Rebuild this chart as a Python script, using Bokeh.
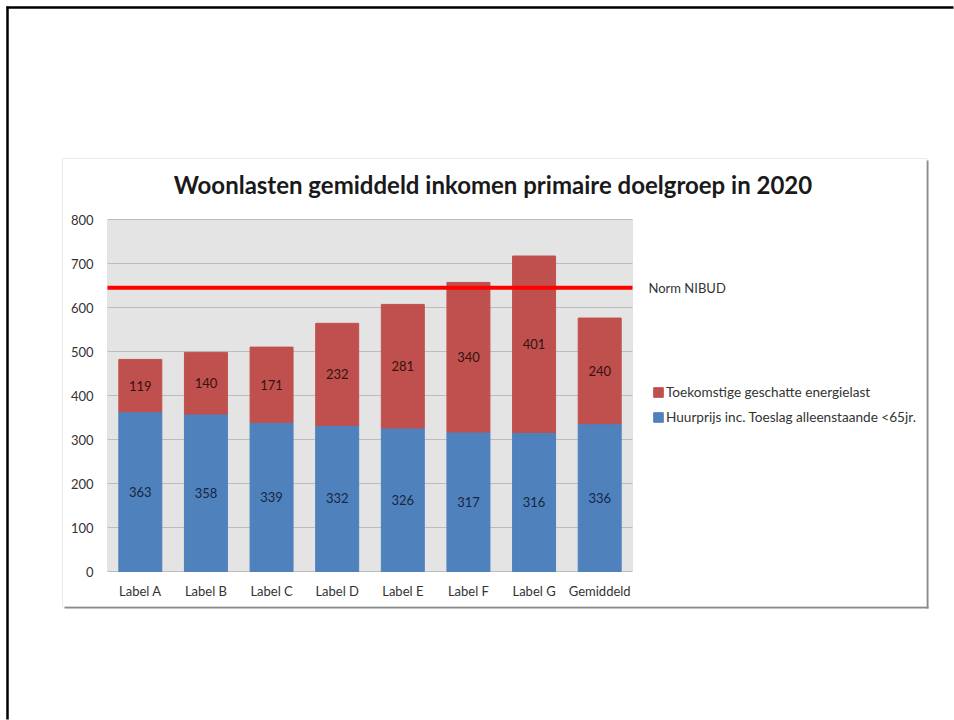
from bokeh.plotting import figure
from bokeh.models import (ColumnDataSource, FixedTicker, Label, BoxAnnotation,
                          Legend, LegendItem, Range1d)
from bokeh.embed import file_html
from bokeh.resources import INLINE
from bokeh.core.properties import value

# ---- data ----
categories = ["Label A", "Label B", "Label C", "Label D", "Label E", "Label F", "Label G", "Gemiddeld"]
huurprijs = [363, 358, 339, 332, 326, 317, 316, 336]
energielast = [119, 140, 171, 232, 281, 340, 401, 240]
norm_nibud = 645
y_ticks = [0, 100, 200, 300, 400, 500, 600, 700, 800]
y_max = 800
title_text = "Woonlasten gemiddeld inkomen primaire doelgroep in 2020"
name_huur = "Huurprijs inc. Toeslag alleenstaande <65jr."
name_energie = "Toekomstige geschatte energielast"
name_norm = "Norm NIBUD"

FONT = "Lato"
BLUE = "#4F81BD"
RED = "#C0504D"

# ---- layout (pixels) ----
W, H = 954, 720
PL, PR, PT, PB = 107, 632, 219, 571          # plot area in canvas pixels
n = len(categories)
x_lo, x_hi = -0.5, n - 0.5
SX = (PR - PL) / (x_hi - x_lo)               # px per category unit
SY = (PB - PT) / y_max                       # px per value unit
XS = x_lo - PL / SX
XE = x_hi + (W - PR) / SX
YS = -(H - PB) / SY
YE = PB / SY


def dx(px):
    return XS + px / SX


def dy(py):
    return YE - py / SY


p = figure(x_range=Range1d(XS, XE), y_range=Range1d(YS, YE), width=W, height=H,
           output_backend="svg", toolbar_location=None,
           min_border_left=0, min_border_right=0, min_border_top=0, min_border_bottom=0)
p.title.visible = False
p.background_fill_color = "white"
p.border_fill_color = "white"
p.outline_line_color = None
p.xgrid.visible = False
p.ygrid.visible = False

# slide frame (left and top edges only)
p.segment(x0=[dx(7), dx(6)], y0=[dy(6), dy(7)], x1=[dx(7), dx(W - 1)], y1=[dy(H - 1), dy(7)],
          line_color="black", line_width=2.5, line_cap="butt")
# chart box with shadow
p.add_layout(BoxAnnotation(left=dx(926), right=dx(928), top=dy(160), bottom=dy(608),
                           fill_color="#8a8a8a", fill_alpha=1, line_color=None, level="underlay"))
p.add_layout(BoxAnnotation(left=dx(64), right=dx(928), top=dy(606), bottom=dy(608),
                           fill_color="#8a8a8a", fill_alpha=1, line_color=None, level="underlay"))
p.add_layout(BoxAnnotation(left=dx(62), right=dx(926), top=dy(158), bottom=dy(606),
                           fill_color="white", fill_alpha=1, line_color="#b8b8b8",
                           line_width=1, level="underlay"))
# plot area
p.add_layout(BoxAnnotation(left=x_lo, right=x_hi, bottom=0, top=y_max,
                           fill_color="#e4e4e4", fill_alpha=1, line_color="#c4c4c4",
                           line_width=1, level="underlay"))

# grid lines
p.segment(x0=[x_lo] * len(y_ticks), x1=[x_hi] * len(y_ticks), y0=y_ticks, y1=y_ticks,
          line_color="#bcbcbc", line_width=1)

src = ColumnDataSource(dict(
    x=list(range(n)),
    huur=huurprijs,
    energie=energielast,
    huur_mid=[h / 2 for h in huurprijs],
    energie_mid=[h + e / 2 for h, e in zip(huurprijs, energielast)],
    huur_txt=[str(h) for h in huurprijs],
    energie_txt=[str(e) for e in energielast],
))

rs = p.vbar_stack(["huur", "energie"], x="x", width=0.655, color=[BLUE, RED], source=src)

p.text(x="x", y="huur_mid", text="huur_txt", source=src, text_align="center",
       text_baseline="middle", text_font=value(FONT), text_font_size="13px", text_color="#182640")
p.text(x="x", y="energie_mid", text="energie_txt", source=src, text_align="center",
       text_baseline="middle", text_font=value(FONT), text_font_size="13px", text_color="#341212")

# norm line
norm_line = p.line(x=[x_lo, x_hi], y=[norm_nibud, norm_nibud], line_color="#ff0000",
                   line_width=4, line_cap="butt")

# axes placed inside the canvas
p.yaxis.fixed_location = x_lo
p.yaxis.ticker = FixedTicker(ticks=y_ticks)
p.yaxis.bounds = (0, y_max)
p.yaxis.axis_line_color = None
p.yaxis.major_tick_line_color = None
p.yaxis.minor_tick_line_color = None
p.yaxis.major_tick_out = 0
p.yaxis.major_tick_in = 0
p.yaxis.major_label_standoff = 14

p.xaxis.fixed_location = 0
p.xaxis.ticker = FixedTicker(ticks=list(range(n)))
p.xaxis.major_label_overrides = {i: c for i, c in enumerate(categories)}
p.xaxis.bounds = (x_lo, x_hi)
p.xaxis.axis_line_color = None
p.xaxis.major_tick_line_color = None
p.xaxis.minor_tick_line_color = None
p.xaxis.major_tick_out = 0
p.xaxis.major_tick_in = 0
p.xaxis.major_label_standoff = 11
for ax in (p.xaxis, p.yaxis):
    ax.major_label_text_font = FONT
    ax.major_label_text_font_size = "13px"
    ax.major_label_text_color = "#333333"

# title
p.add_layout(Label(x=dx(492.5), y=dy(184), text=title_text, text_align="center",
                   text_baseline="middle", text_font=FONT, text_font_size="24px",
                   text_font_style="bold", text_color="#1a1a1a"))
# norm label
p.add_layout(Label(x=dx(648), y=norm_nibud, text=name_norm, text_baseline="middle",
                   text_font=FONT, text_font_size="13px", text_color="#333333"))

# legend
legend = Legend(items=[LegendItem(label=name_energie, renderers=[rs[1]]),
                       LegendItem(label=name_huur, renderers=[rs[0]])],
                location=(652, H - 425), border_line_color=None, background_fill_alpha=0,
                padding=0, margin=0, spacing=9, glyph_width=12, glyph_height=12,
                label_standoff=2, label_height=12, label_text_font=FONT,
                label_text_font_size="13.6px", label_text_color="#333333")
p.add_layout(legend)

open("out.html", "w").write(file_html(p, INLINE))
